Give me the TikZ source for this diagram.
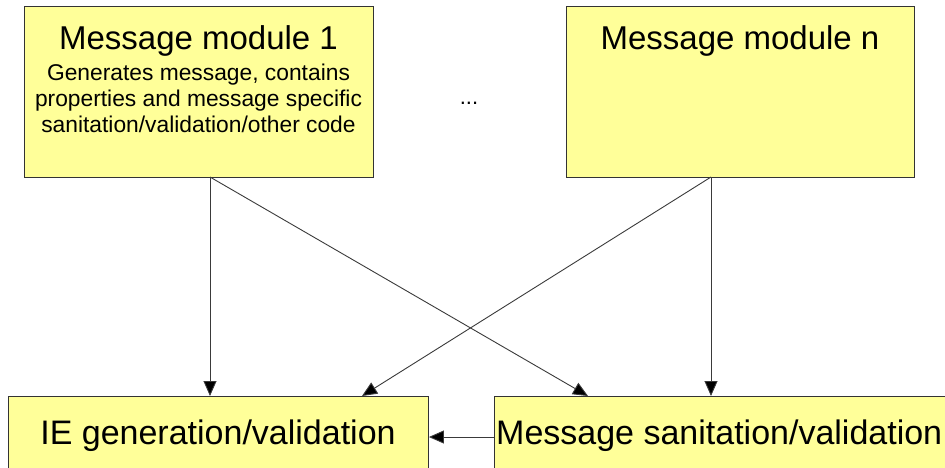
\documentclass[tikz,border=0pt]{standalone}
\usepackage{fontspec}
\setmainfont{Liberation Sans}
\usepackage{tikz}
\usetikzlibrary{arrows.meta,positioning}
\definecolor{pad}{HTML}{FFFF99}
\definecolor{edge}{HTML}{333333}
\definecolor{wire}{HTML}{3A3A3A}
\tikzset{
  modbox/.style={draw=edge,line width=0.9pt,fill=pad,inner sep=0pt,anchor=north west},
  ttl/.style={font=\fontsize{33}{38}\selectfont,inner sep=0pt,anchor=base},
  sub/.style={font=\fontsize{22.8}{26}\selectfont,inner sep=0pt,align=center,anchor=north},
  big/.style={font=\fontsize{34}{38}\selectfont,inner sep=0pt},
  ar/.style={-{Triangle[length=15pt,width=13pt,fill=black]},line width=0.9pt,draw=wire},
}
\begin{document}
\begin{tikzpicture}[x=1pt,y=-1pt]
\useasboundingbox (0,0) rectangle (945,467);
\clip (0,0) rectangle (945,467);
% message modules
\node[modbox,minimum width=349pt,minimum height=171pt] (m1) at (24,6) {};
\node[modbox,minimum width=348pt,minimum height=171pt] (mn) at (566,6) {};
\node[ttl] (m1t) at (198.5,49) {Message module 1};
\node[sub] (m1d) at (198.5,64) {Generates message, contains\\properties and message specific\\sanitation/validation/other code};
\node[ttl] (mnt) at (740,49) {Message module n};
\node[font=\fontsize{22}{26}\selectfont,inner sep=0pt,anchor=base] (dots) at (469,104) {...};
% shared code
\node[modbox,minimum width=420pt,minimum height=110pt] (ie) at (8,396) {};
\node[modbox,minimum width=500pt,minimum height=110pt] (san) at (494,396) {};
\node[big,anchor=base] (iet) at (218,444) {IE generation/validation};
\node[big,anchor=base west] (sant) at (496,444) {Message sanitation/validation};
% ports
\coordinate (m1o) at (210,177);
\coordinate (mno) at (711,177);
\coordinate (iein) at (362,396);
\coordinate (sanin) at (588,396);
\draw[ar] (m1o) -- (m1o |- ie.north);
\draw[ar] (m1o) -- (sanin);
\draw[ar] (mno) -- (mno |- san.north);
\draw[ar] (mno) -- (iein);
\draw[ar] (san.west |- 0,437) -- (ie.east |- 0,437);
\end{tikzpicture}
\end{document}
